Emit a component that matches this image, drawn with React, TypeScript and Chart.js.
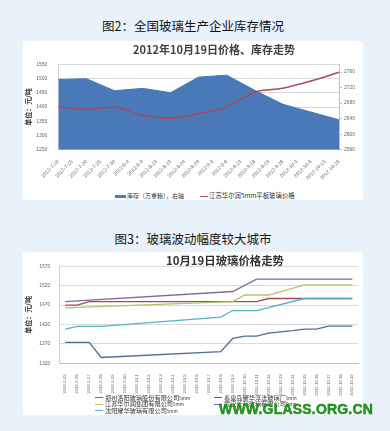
import React, { useEffect, useRef } from "react";
import { Chart, registerables } from "chart.js";

Chart.register(...registerables);

// ---------- Chart 1 data ----------
const stockCategories = [
  "2012-7-10", "2012-7-15", "2012-7-20", "2012-7-25", "2012-7-30", "2012-8-4", "2012-8-9",
  "2012-8-14", "2012-8-19", "2012-8-24", "2012-8-29", "2012-9-3", "2012-9-8", "2012-9-13",
  "2012-9-18", "2012-9-23", "2012-9-28", "2012-10-3", "2012-10-8", "2012-10-13", "2012-10-18",
];
// 库存（万重箱），右轴
const stockValues = [2741, null, 2743, null, 2712, null, 2718, null, 2707, null, 2747, null, 2752, null, 2713, null, 2677, null, 2657, null, 2637];
// 江苏华尔润5mm平板玻璃价格（元/吨），左轴
const priceValues = [1401, null, 1393, null, 1399, null, 1370, null, 1360, null, 1377, null, 1401, null, 1452, null, 1466, null, 1491, null, 1522];
const leftAxisRange = [1250, 1550, 50];
const rightAxisRange = [2560, 2780, 20];

// ---------- Chart 2 data ----------
const cityCategories = [
  "2012-9-25", "2012-9-26", "2012-9-27", "2012-9-28", "2012-9-29", "2012-9-30",
  "2012-10-1", "2012-10-2", "2012-10-3", "2012-10-4", "2012-10-5", "2012-10-6", "2012-10-7",
  "2012-10-8", "2012-10-9", "2012-10-10", "2012-10-11", "2012-10-12", "2012-10-13",
  "2012-10-14", "2012-10-15", "2012-10-16", "2012-10-17", "2012-10-18", "2012-10-19",
];
const seriesNames = [
  "郑州洛阳玻璃股份有限公司",
  "秦皇岛耀华浮法玻璃厂",
  "江苏华尔润集团有限公司",
  "武汉长利玻璃有限公司",
  "沈阳耀华玻璃有限公司",
];
const zhengzhou = [1374, 1374, 1374, 1335, null, null, null, null, null, null, null, null, null, 1350, 1384, 1390, 1390, 1398, 1401, 1404, 1408, 1408, 1416, 1416, 1416];
const qinhuangdao = [1470, 1470, 1479, null, null, null, null, null, null, null, null, null, null, null, null, null, 1479, 1487, 1487, 1487, 1487, 1487, 1487, 1487, 1487];
const jiangsu = [1463, null, null, null, null, null, null, null, null, null, null, null, null, null, 1479, 1496, 1496, 1496, null, null, 1522, 1522, 1522, 1522, 1522];
const wuhan = [1479, null, null, null, null, null, null, null, null, null, null, null, null, null, 1505, null, 1537, 1537, 1537, 1537, 1537, 1537, 1537, 1537, 1537];
const shenyang = [1408, 1415, 1415, 1415, null, null, null, null, null, null, null, null, null, 1439, 1456, 1456, 1456, null, null, null, 1487, 1487, 1487, 1487, 1487];
const cityAxisRange = [1320, 1570, 50];

const seriesColors = ["#4E6E93", "#A84852", "#B3C26C", "#7E6A9F", "#55B0C8"];

const TICK_FONT = { family: "'Liberation Sans', Arial, sans-serif", size: 5 };
const CJK = "'Noto Sans CJK SC', 'Noto Sans', sans-serif";

function ChartCanvas({ makeConfig, left, top, width, height }: any) {
  const ref = useRef<HTMLCanvasElement>(null);
  useEffect(() => {
    const chart = new Chart(ref.current as HTMLCanvasElement, makeConfig());
    return () => chart.destroy();
  }, []);
  return (
    <canvas
      ref={ref}
      width={width}
      height={height}
      style={{ position: "absolute", left, top, width, height }}
    />
  );
}

function stockConfig(): any {
  return {
    type: "line",
    data: {
      labels: stockCategories,
      datasets: [
        {
          label: "江苏华尔润5mm平板玻璃价格",
          data: priceValues,
          yAxisID: "y",
          borderColor: "#A64B5A",
          borderWidth: 1.5,
          pointRadius: 0,
          spanGaps: true,
          cubicInterpolationMode: "monotone",
          fill: false,
        },
        {
          label: "库存（万重箱），右轴",
          data: stockValues,
          yAxisID: "y1",
          borderColor: "#4A79B9",
          backgroundColor: "#4A79B9",
          borderWidth: 1,
          pointRadius: 0,
          spanGaps: true,
          tension: 0,
          fill: "start",
        },
      ],
    },
    options: {
      responsive: false,
      animation: false,
      devicePixelRatio: 1,
      layout: { padding: { top: 23.3, left: 0, right: 0, bottom: 0 } },
      plugins: { legend: { display: false }, tooltip: { enabled: false }, title: { display: false } },
      scales: {
        x: {
          type: "category",
          offset: false,
          grid: { display: false },
          border: { display: true, color: "#BFBFBF" },
          ticks: {
            autoSkip: false,
            minRotation: 45,
            maxRotation: 45,
            font: TICK_FONT,
            color: "#666666",
            padding: 1,
          },
          afterFit: (s: any) => { s.height = 41.3; },
        },
        y: {
          position: "left",
          min: leftAxisRange[0],
          max: leftAxisRange[1],
          ticks: {
            stepSize: leftAxisRange[2],
            font: TICK_FONT,
            color: "#666666",
            padding: 11,
            callback: (v: any) => String(v),
          },
          grid: { color: "#D9D9D9", drawTicks: false },
          border: { display: true, color: "#D0D0D0" },
          title: {
            display: true,
            text: "单位：元/吨",
            font: { family: CJK, size: 7, weight: "bold" },
            color: "#333333",
            padding: { top: 1, bottom: 0 },
          },
          afterFit: (s: any) => { s.width = 35.3; },
        },
        y1: {
          position: "right",
          min: rightAxisRange[0],
          max: rightAxisRange[1],
          ticks: {
            stepSize: rightAxisRange[2],
            font: TICK_FONT,
            color: "#666666",
            padding: 2,
            callback: (v: any) => String(v),
          },
          grid: { drawOnChartArea: false, drawTicks: true, tickLength: 3, color: "#BFBFBF" },
          border: { display: true, color: "#BFBFBF" },
          afterFit: (s: any) => { s.width = 24; },
        },
      },
    },
  };
}

function cityConfig(): any {
  const all = [zhengzhou, qinhuangdao, jiangsu, wuhan, shenyang];
  return {
    type: "line",
    data: {
      labels: cityCategories,
      datasets: all.map((d, i) => ({
        label: seriesNames[i] + "5mm",
        data: d,
        borderColor: seriesColors[i],
        borderWidth: 1.3,
        pointRadius: 0,
        spanGaps: true,
        tension: 0,
        fill: false,
        order: 5 - i,
      })),
    },
    options: {
      responsive: false,
      animation: false,
      devicePixelRatio: 1,
      layout: { padding: { top: 14.3, left: 0, right: 4.7, bottom: 0 } },
      plugins: { legend: { display: false }, tooltip: { enabled: false }, title: { display: false } },
      scales: {
        x: {
          type: "category",
          offset: true,
          grid: { display: false },
          border: { display: true, color: "#BFBFBF" },
          ticks: {
            autoSkip: false,
            minRotation: 90,
            maxRotation: 90,
            font: { family: "'Liberation Sans', Arial, sans-serif", size: 4.2 },
            color: "#666666",
            padding: 3,
          },
          afterFit: (s: any) => { s.height = 38.7; },
        },
        y: {
          position: "left",
          min: cityAxisRange[0],
          max: cityAxisRange[1],
          ticks: {
            stepSize: cityAxisRange[2],
            font: TICK_FONT,
            color: "#666666",
            padding: 9,
            callback: (v: any) => String(v),
          },
          grid: { color: "#D9D9D9", drawTicks: false },
          border: { display: true, color: "#D0D0D0" },
          title: {
            display: true,
            text: "单位：元/吨",
            font: { family: CJK, size: 7, weight: "bold" },
            color: "#333333",
            padding: { top: 1, bottom: 0 },
          },
          afterFit: (s: any) => { s.width = 36.3; },
        },
      },
    },
  };
}

const abs = (left: number, top: number, extra: any = {}) => ({ position: "absolute", left, top, ...extra } as any);

function LegendLine({ x, y, color, text, w = 8 }: any) {
  return (
    <>
      <div style={abs(x, y + 3.5, { width: w, height: 1.2, background: color })} />
      <div style={abs(x + w + 2, y, { fontFamily: CJK, fontSize: 6.2, lineHeight: "8px", color: "#333", whiteSpace: "nowrap" })}>
        {text}<span style={{ fontSize: 4.5 }}>5mm</span>
      </div>
    </>
  );
}

export default function App() {
  return (
    <div style={{ position: "absolute", left: 0, top: 0, width: 390, height: 431, background: "#E9F1FA", overflow: "hidden" }}>
      <div style={abs(0, 18.3, { width: 386, textAlign: "center", fontFamily: CJK, fontSize: 12.5, lineHeight: "16px", color: "#111" })}>
        图2：全国玻璃生产企业库存情况
      </div>
      <div style={abs(23, 41, { width: 340, height: 159, background: "#FFFFFF" })} />
      <ChartCanvas makeConfig={stockConfig} left={23} top={41} width={340} height={150} />
      <div style={abs(114, 42.4, { width: 200, textAlign: "center", fontFamily: CJK, fontSize: 11, fontWeight: "bold", lineHeight: "14px", color: "#404040" })}>
        2012年10月19日价格、库存走势
      </div>
      {/* legend 1 */}
      <div style={abs(115, 194.5, { width: 11, height: 3, background: "#4A79B9" })} />
      <div style={abs(127, 192, { fontFamily: CJK, fontSize: 6, lineHeight: "8px", color: "#333", whiteSpace: "nowrap" })}>
        库存（万重箱），右轴
      </div>
      <div style={abs(200, 195.5, { width: 8, height: 1.2, background: "#A64B5A" })} />
      <div style={abs(209, 192, { fontFamily: CJK, fontSize: 6.4, lineHeight: "8px", color: "#333", whiteSpace: "nowrap" })}>
        江苏华尔润5mm平板玻璃价格
      </div>

      <div style={abs(0, 230.6, { width: 386, textAlign: "center", fontFamily: CJK, fontSize: 12.5, lineHeight: "16px", color: "#111" })}>
        图3：玻璃波动幅度较大城市
      </div>
      <div style={abs(23, 252.3, { width: 340, height: 162.7, background: "#FFFFFF" })} />
      <ChartCanvas makeConfig={cityConfig} left={23} top={252} width={340} height={150} />
      <div style={abs(125, 253, { width: 200, textAlign: "center", fontFamily: CJK, fontSize: 11.4, fontWeight: "bold", lineHeight: "14px", color: "#333" })}>
        10月19日玻璃价格走势
      </div>
      {/* legend 2 */}
      <LegendLine x={95} y={393.5} color={seriesColors[0]} text={seriesNames[0]} />
      <LegendLine x={214} y={393.5} color={seriesColors[1]} text={seriesNames[1]} />
      <LegendLine x={95} y={400.2} color={seriesColors[2]} text={seriesNames[2]} />
      <LegendLine x={214} y={400.2} color={seriesColors[3]} text={seriesNames[3]} />
      <LegendLine x={95} y={406.8} color={seriesColors[4]} text={seriesNames[4]} />

      <div style={abs(219, 402, {
        fontFamily: "'Liberation Sans', Arial, sans-serif", fontSize: 14, fontWeight: "bold",
        lineHeight: "14px", letterSpacing: 0.2, color: "#22A022", whiteSpace: "nowrap",
        WebkitTextStroke: "0.5px #137A13",
      })}>
        WWW.GLASS.ORG.CN
      </div>
    </div>
  );
}
